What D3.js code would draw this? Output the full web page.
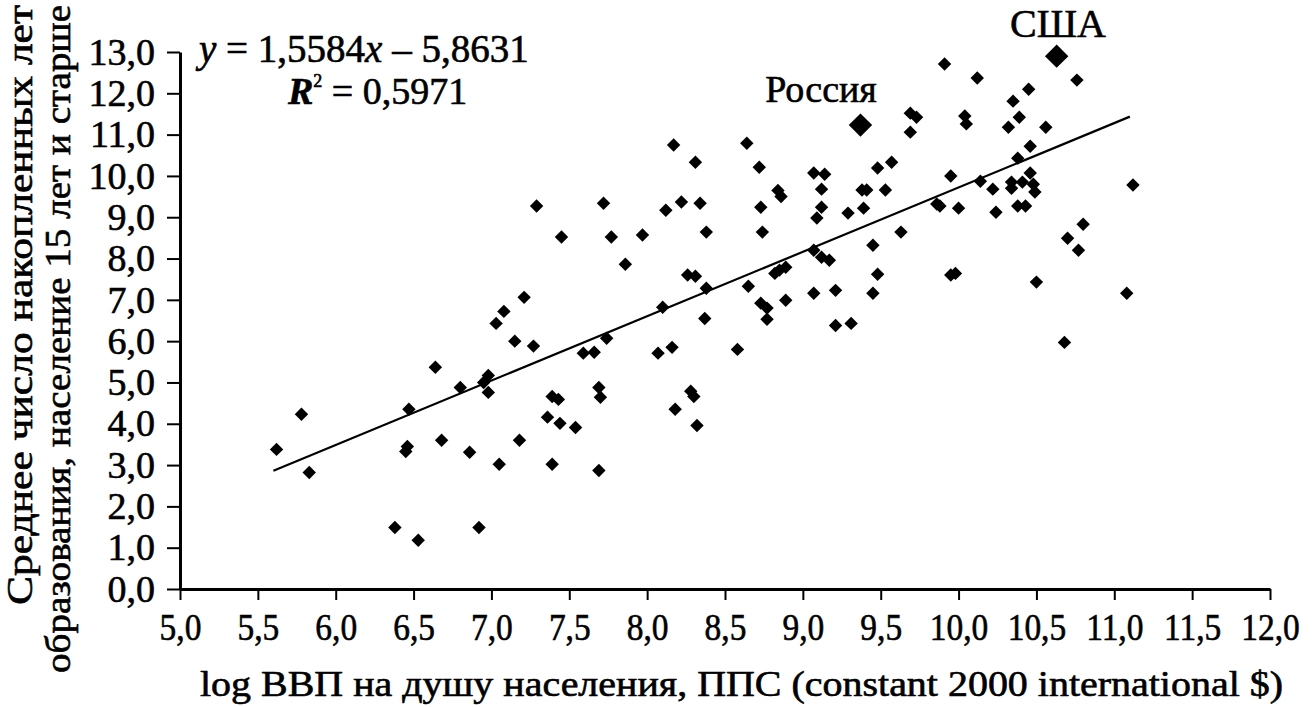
<!DOCTYPE html>
<html>
<head>
<meta charset="utf-8">
<script src="https://cdn.jsdelivr.net/npm/d3@7"></script>
<style>
  body { margin: 0; background: #fff; }
  svg { display: block; }
  text { font-family: "Liberation Serif", "Times New Roman", serif; fill: #000; stroke: #000; stroke-width: 0.6px; }
</style>
</head>
<body>
<svg id="chart"></svg>
<script>
// log GDP per capita (PPP) and mean years of schooling, one entry per country
var gdpLog = [5.62, 5.78, 5.83, 6.38, 6.53, 6.92, 6.47, 6.46, 6.45, 6.64,
  6.80, 6.98, 6.95, 6.98, 7.03, 7.08, 7.15, 7.27, 6.68, 6.86,
  7.05, 7.18, 7.36, 7.39, 7.43, 7.44, 7.54, 7.39, 7.59, 7.66,
  7.74, 7.69, 7.70, 7.69, 7.29, 7.21, 7.45, 7.72, 7.77, 7.97,
  7.86, 8.17, 8.31, 8.12, 8.22, 8.34, 8.38, 8.64, 8.72, 8.84,
  8.86, 8.73, 8.74, 8.26, 8.31, 8.38, 8.65, 8.82, 8.85, 8.89,
  8.10, 8.37, 8.73, 8.77, 8.77, 8.89, 8.07, 8.16, 8.58, 8.28,
  8.30, 8.18, 8.32, 9.07, 9.14, 9.12, 9.12, 9.09, 9.29, 9.39,
  9.38, 9.41, 9.53, 9.48, 9.57, 9.45, 9.63, 9.48, 9.45, 9.07,
  9.12, 9.17, 9.07, 9.21, 9.21, 9.31, 9.91, 10.12, 10.45, 10.35,
  10.39, 10.32, 10.56, 9.69, 9.73, 9.69, 10.04, 10.05, 10.46, 10.38,
  9.95, 10.14, 10.22, 10.34, 10.34, 10.41, 10.46, 10.48, 10.49, 9.86,
  9.88, 10.00, 10.24, 10.38, 10.43, 11.12, 10.80, 10.70, 10.77, 9.95,
  9.98, 10.50, 11.08, 10.68, 10.76];
var eduYears = [3.38, 4.23, 2.82, 1.49, 1.18, 1.49, 4.35, 3.45, 3.33, 5.37,
  4.88, 5.17, 5.00, 4.76, 6.43, 6.72, 6.00, 5.88, 3.60, 3.31,
  3.02, 3.60, 4.16, 4.66, 4.59, 4.01, 3.91, 3.02, 5.71, 5.73,
  6.07, 4.88, 4.64, 2.87, 9.27, 7.06, 8.52, 9.34, 8.52, 8.57,
  7.86, 10.75, 10.33, 9.17, 9.37, 9.34, 8.64, 10.79, 10.21, 9.65,
  9.50, 9.24, 8.64, 7.60, 7.57, 7.28, 7.33, 7.64, 7.72, 7.79,
  6.82, 6.55, 6.92, 6.80, 6.53, 6.99, 5.71, 5.85, 5.80, 4.79,
  4.66, 4.35, 3.96, 10.07, 10.04, 9.68, 9.24, 8.98, 9.10, 9.22,
  9.66, 9.66, 9.66, 10.19, 10.33, 8.32, 8.64, 7.62, 7.16, 8.20,
  8.03, 7.96, 7.16, 7.23, 6.38, 6.43, 12.71, 12.37, 12.10, 11.81,
  11.42, 11.18, 11.18, 11.52, 11.42, 11.06, 11.45, 11.26, 10.72, 10.43,
  10.00, 9.87, 9.68, 9.85, 9.70, 9.85, 10.07, 9.80, 9.61, 9.32,
  9.27, 9.22, 9.12, 9.27, 9.27, 9.78, 8.83, 8.49, 8.20, 7.60,
  7.64, 7.43, 7.16, 5.97, 12.32];

// highlighted countries
var hiNames = ["Россия", "США"];
var hiGdp = [9.37, 10.63];
var hiEdu = [11.23, 12.90];

// regression y = 1,5584x - 5,8631
var trendSlope = 1.5584;
var trendIntercept = -5.8631;
var trendRange = [5.6, 11.1];

var xTicks = [5, 5.5, 6, 6.5, 7, 7.5, 8, 8.5, 9, 9.5, 10, 10.5, 11, 11.5, 12];
var yTicks = [0, 1, 2, 3, 4, 5, 6, 7, 8, 9, 10, 11, 12, 13];

var xTitle = "log ВВП на душу населения, ППС (constant 2000 international $)";
var yTitle = ["Среднее число накопленных лет", "образования, население 15 лет и старше"];

var width = 1314, height = 707;
var svg = d3.select("#chart").attr("width", width).attr("height", height);

var x = d3.scaleLinear().domain([5, 12]).range([180, 1270]);
var y = d3.scaleLinear().domain([0, 13]).range([589, 52]);

var fmt = function(v) { return d3.format(".1f")(v).replace(".", ","); };

var xAxis = svg.append("g")
  .attr("transform", "translate(0," + y(0) + ")")
  .call(d3.axisBottom(x).tickValues(xTicks).tickSize(11).tickSizeOuter(0).tickPadding(13).tickFormat(fmt));
xAxis.select(".domain").attr("stroke-width", 3);
xAxis.selectAll(".tick line").attr("stroke-width", 2);
xAxis.selectAll(".tick text")
  .attr("font-size", 38)
  .attr("transform", "scale(0.88,1)");

var yAxis = svg.append("g")
  .attr("transform", "translate(" + x(5) + ",0)")
  .call(d3.axisLeft(y).tickValues(yTicks).tickSize(13).tickSizeOuter(0).tickPadding(12).tickFormat(fmt));
yAxis.select(".domain").attr("stroke-width", 3);
yAxis.selectAll(".tick line").attr("stroke-width", 2);
yAxis.selectAll(".tick text").attr("font-size", 38);

// trend line
var line = d3.line().x(function(d) { return x(d); })
  .y(function(d) { return y(trendSlope * d + trendIntercept); });
svg.append("path")
  .datum(trendRange)
  .attr("d", line)
  .attr("fill", "none")
  .attr("stroke", "#000")
  .attr("stroke-width", 2.2);

// points
var pts = d3.range(gdpLog.length).map(function(i) { return [gdpLog[i], eduYears[i]]; });
var small = d3.symbol().type(d3.symbolSquare).size(90);
var big = d3.symbol().type(d3.symbolSquare).size(275);

svg.append("g").selectAll("path")
  .data(pts)
  .enter().append("path")
  .attr("d", small)
  .attr("transform", function(d) { return "translate(" + x(d[0]) + "," + y(d[1]) + ") rotate(45)"; })
  .attr("fill", "#000");

svg.append("g").selectAll("path")
  .data(hiGdp)
  .enter().append("path")
  .attr("d", big)
  .attr("transform", function(d, i) { return "translate(" + x(d) + "," + y(hiEdu[i]) + ") rotate(45)"; })
  .attr("fill", "#000");

// country labels
svg.append("text").attr("x", 821).attr("y", 102).attr("text-anchor", "middle")
  .attr("font-size", 38).text(hiNames[0]);
svg.append("text").attr("x", 1058).attr("y", 37).attr("text-anchor", "middle")
  .attr("font-size", 40).text(hiNames[1]);

// regression equation
var eq = svg.append("text").attr("x", 199).attr("y", 62).attr("font-size", 39);
eq.append("tspan").attr("font-style", "italic").text("y");
eq.append("tspan").text(" = 1,5584");
eq.append("tspan").attr("font-style", "italic").text("x");
eq.append("tspan").text(" – 5,8631");

var r2 = svg.append("text").attr("x", 288).attr("y", 104).attr("font-size", 38);
r2.append("tspan").attr("font-style", "italic").attr("font-weight", "bold").text("R");
r2.append("tspan").attr("font-size", 18).attr("dy", -17).text("2");
r2.append("tspan").attr("dy", 17).text(" = 0,5971");

// axis titles
svg.append("text").attr("x", 200).attr("y", 696)
  .attr("font-size", 35)
  .attr("textLength", 1083).attr("lengthAdjust", "spacingAndGlyphs")
  .text(xTitle);

svg.append("text")
  .attr("transform", "translate(32,605) rotate(-90)")
  .attr("font-size", 35)
  .attr("textLength", 600).attr("lengthAdjust", "spacingAndGlyphs")
  .text(yTitle[0]);
svg.append("text")
  .attr("transform", "translate(70,673) rotate(-90)")
  .attr("font-size", 35)
  .attr("textLength", 668).attr("lengthAdjust", "spacingAndGlyphs")
  .text(yTitle[1]);
</script>
</body>
</html>
